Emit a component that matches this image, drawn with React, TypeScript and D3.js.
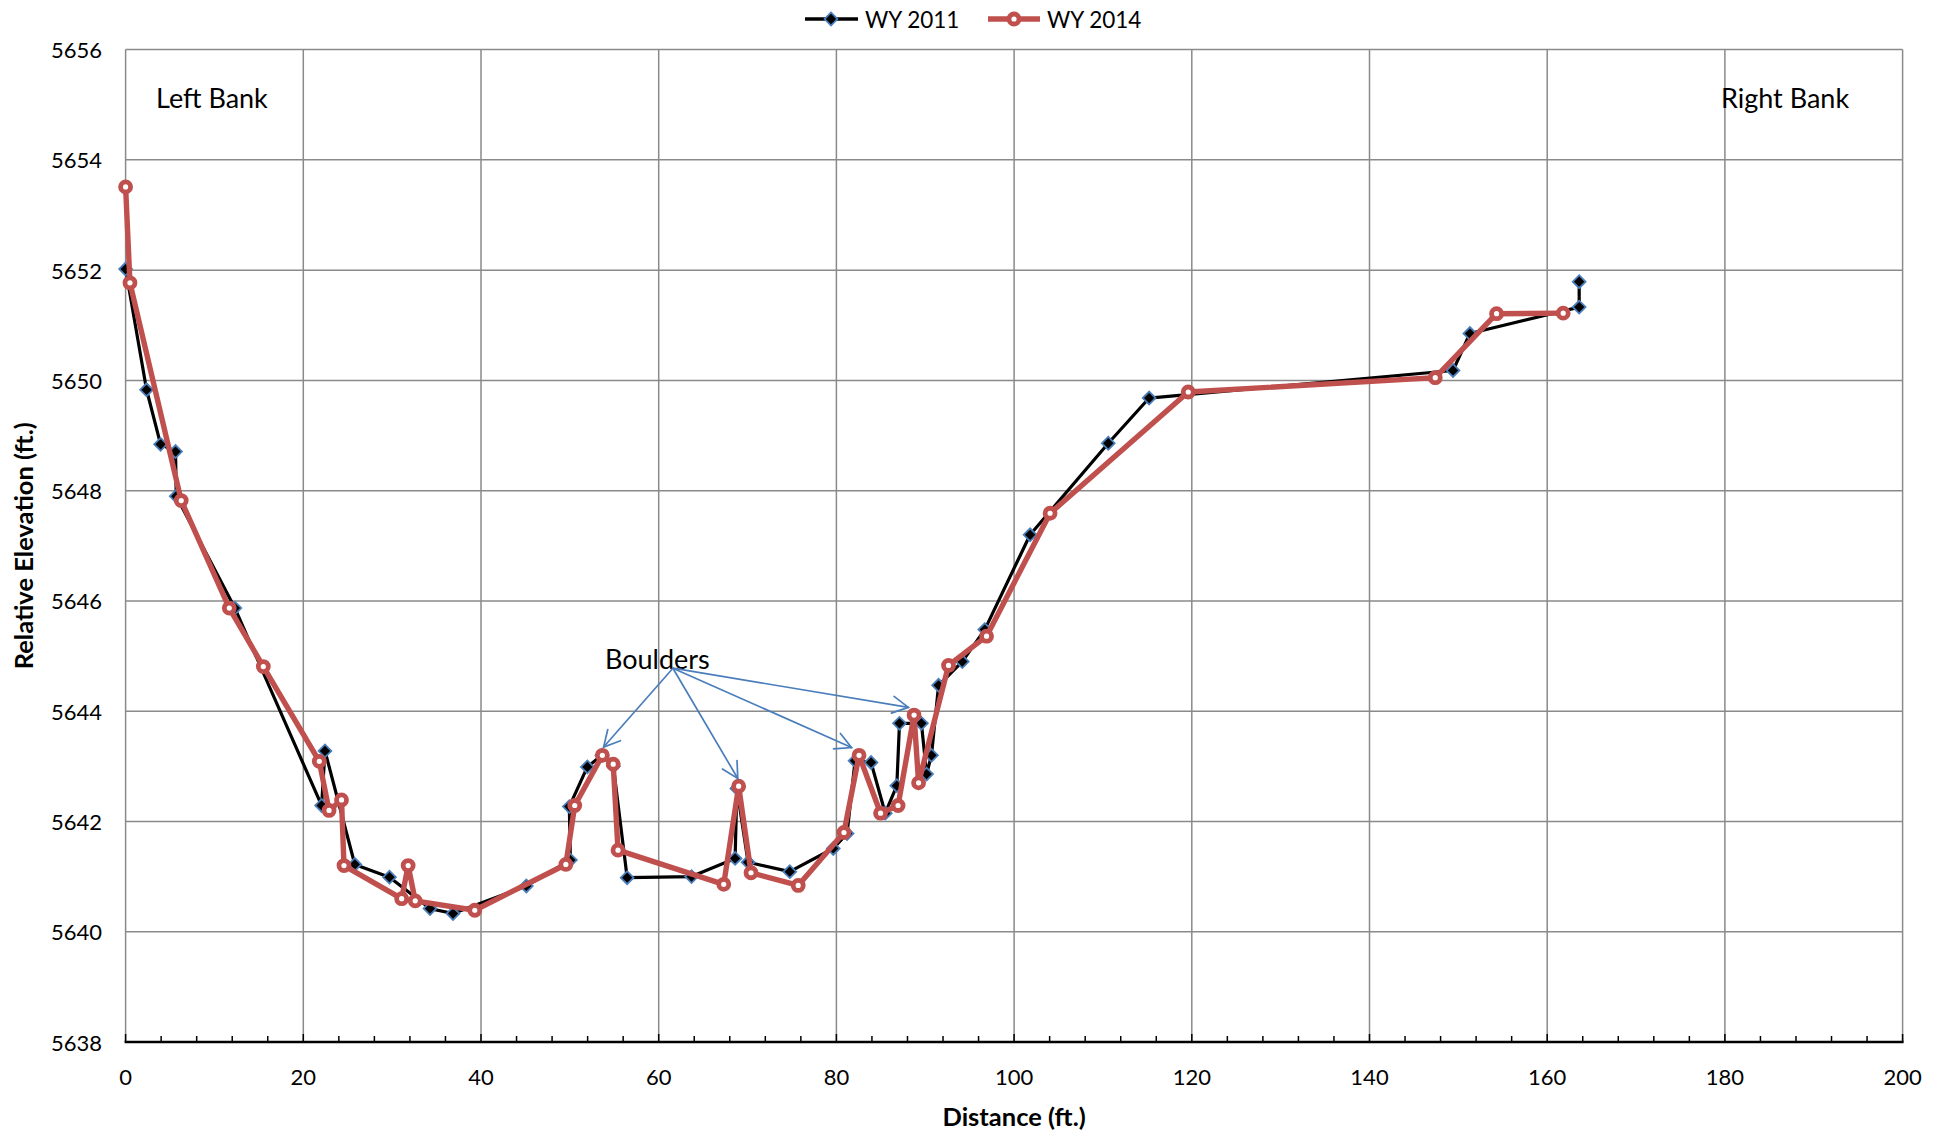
import React from "react";
import * as d3 from "d3";

const W = 1948;
const H = 1132;

// Cross-section survey, WY 2011
const distance2011 = [0, 2.36, 3.94, 5.62, 5.7, 12.3, 22.06, 22.44, 25.8, 29.7, 34.26, 36.85, 45.1, 50.06, 49.94, 51.97, 53.6, 54.9, 56.45, 63.7, 68.6, 68.8, 70.06, 74.75, 79.65, 81.2, 82.1, 83.9, 85.5, 86.8, 87.1, 89.57, 90.15, 90.7, 91.5, 94.17, 96.7, 101.8, 110.6, 115.2, 149.4, 151.3, 163.6, 163.6];
const elevation2011 = [5652.02, 5649.83, 5648.84, 5648.71, 5647.9, 5645.87, 5642.29, 5643.28, 5641.22, 5640.99, 5640.42, 5640.33, 5640.83, 5641.3, 5642.27, 5642.99, 5643.2, 5643.0, 5640.98, 5641.0, 5641.33, 5642.6, 5641.26, 5641.09, 5641.51, 5641.78, 5643.1, 5643.07, 5642.15, 5642.65, 5643.78, 5643.78, 5642.86, 5643.2, 5644.47, 5644.9, 5645.48, 5647.2, 5648.86, 5649.68, 5650.18, 5650.85, 5651.33, 5651.79];

// Cross-section survey, WY 2014
const distance2014 = [0, 0.49, 6.26, 11.67, 15.5, 21.8, 22.9, 24.3, 24.58, 31.07, 31.8, 32.6, 39.3, 49.55, 50.55, 53.66, 54.88, 55.42, 67.32, 69.0, 70.39, 75.7, 80.85, 82.55, 84.97, 86.94, 88.74, 89.25, 92.62, 96.9, 104.05, 119.6, 147.4, 154.3, 161.8];
const elevation2014 = [5653.51, 5651.77, 5647.82, 5645.87, 5644.81, 5643.09, 5642.2, 5642.39, 5641.2, 5640.6, 5641.2, 5640.56, 5640.39, 5641.22, 5642.29, 5643.2, 5643.04, 5641.48, 5640.86, 5642.64, 5641.07, 5640.84, 5641.8, 5643.2, 5642.15, 5642.29, 5643.93, 5642.7, 5644.83, 5645.36, 5647.59, 5649.79, 5650.05, 5651.21, 5651.22];

const xTicks = [0, 20, 40, 60, 80, 100, 120, 140, 160, 180, 200];
const yTicks = [5638, 5640, 5642, 5644, 5646, 5648, 5650, 5652, 5654, 5656];

// "Boulders" callout: arrows fan out from one point to each boulder
const boulderOrigin = [61.6, 5644.78];
const boulderTipX = [53.8, 68.9, 81.7, 88.1];
const boulderTipY = [5643.35, 5642.78, 5643.34, 5644.07];

const FONT = "Lato, 'Open Sans', sans-serif";
const GRID = "#8a8a8a";
const RED = "#C0504D";
const BLUE = "#4A7EBB";

const x = d3.scaleLinear().domain([0, 200]).range([125.6, 1902.6]);
const y = d3.scaleLinear().domain([5638, 5656]).range([1042, 49.6]);

type Pt = [number, number];
const pts2011: Pt[] = distance2011.map((d, i) => [d, elevation2011[i]]);
const pts2014: Pt[] = distance2014.map((d, i) => [d, elevation2014[i]]);

const line = d3
  .line<Pt>()
  .x((d) => x(d[0]))
  .y((d) => y(d[1]));

const diamond = d3.symbol(d3.symbolSquare, 82)();
const minorTicks = d3.range(0, 201, 4).filter((v) => v % 20 !== 0);

function Arrow({ x0, y0, x1, y1 }: { x0: number; y0: number; x1: number; y1: number }) {
  const ang = Math.atan2(y1 - y0, x1 - x0);
  const L = 18;
  const spread = (28 * Math.PI) / 180;
  const w1: Pt = [x1 - L * Math.cos(ang - spread), y1 - L * Math.sin(ang - spread)];
  const w2: Pt = [x1 - L * Math.cos(ang + spread), y1 - L * Math.sin(ang + spread)];
  return (
    <g stroke={BLUE} strokeWidth={1.7} fill="none" strokeLinecap="round">
      <line x1={x0} y1={y0} x2={x1} y2={y1} />
      <polyline points={`${w1[0]},${w1[1]} ${x1},${y1} ${w2[0]},${w2[1]}`} />
    </g>
  );
}

export default function App() {
  const [ox, oy] = boulderOrigin;
  return (
    <svg
      width={W}
      height={H}
      viewBox={`0 0 ${W} ${H}`}
      style={{ position: "absolute", left: 0, top: 0, background: "#fff" }}
      fontFamily={FONT}
    >
      <rect x={0} y={0} width={W} height={H} fill="#fff" />

      {/* grid */}
      <g stroke={GRID} strokeWidth={1.5}>
        {xTicks.map((t) => (
          <line key={`gx${t}`} x1={x(t)} x2={x(t)} y1={y(5656)} y2={y(5638)} />
        ))}
        {yTicks.map((t) => (
          <line key={`gy${t}`} x1={x(0)} x2={x(200)} y1={y(t)} y2={y(t)} />
        ))}
      </g>

      {/* x axis with inward ticks */}
      <g stroke="#000">
        {xTicks.map((t) => (
          <line key={`mt${t}`} x1={x(t)} x2={x(t)} y1={y(5638)} y2={y(5638) - 8} strokeWidth={1.5} />
        ))}
        {minorTicks.map((t) => (
          <line key={`nt${t}`} x1={x(t)} x2={x(t)} y1={y(5638)} y2={y(5638) - 6} strokeWidth={1.5} />
        ))}
        <line x1={x(0) - 1} x2={x(200) + 1} y1={y(5638)} y2={y(5638)} strokeWidth={2.6} />
      </g>

      {/* tick labels */}
      <g fontSize={22} fill="#000">
        {yTicks.map((t) => (
          <text key={`ly${t}`} x={102} y={y(t)} textAnchor="end" dominantBaseline="central">
            {t}
          </text>
        ))}
        {xTicks.map((t) => (
          <text key={`lx${t}`} x={x(t)} y={1076} textAnchor="middle" dominantBaseline="central">
            {t}
          </text>
        ))}
      </g>

      {/* axis titles */}
      <text x={x(100)} y={1116} textAnchor="middle" dominantBaseline="central" fontSize={25.5} fontWeight="bold">
        Distance (ft.)
      </text>
      <text
        transform={`translate(23, ${(y(5638) + y(5656)) / 2}) rotate(-90)`}
        textAnchor="middle"
        dominantBaseline="central"
        fontSize={25.5}
        fontWeight="bold"
      >
        Relative Elevation (ft.)
      </text>

      {/* bank labels */}
      <text x={156} y={97} dominantBaseline="central" fontSize={27}>
        Left Bank
      </text>
      <text x={1721} y={97} dominantBaseline="central" fontSize={27}>
        Right Bank
      </text>

      {/* WY 2011 */}
      <path d={line(pts2011) ?? ""} fill="none" stroke="#000" strokeWidth={3.2} strokeLinejoin="round" />
      {pts2011.map((p, i) => (
        <path
          key={`d${i}`}
          d={diamond ?? ""}
          transform={`translate(${x(p[0])},${y(p[1])}) rotate(45)`}
          fill="#000"
          stroke={BLUE}
          strokeWidth={1.8}
        />
      ))}

      {/* WY 2014 */}
      <path d={line(pts2014) ?? ""} fill="none" stroke={RED} strokeWidth={5.4} strokeLinejoin="round" />
      {pts2014.map((p, i) => (
        <circle key={`c${i}`} cx={x(p[0])} cy={y(p[1])} r={5} fill="#fff" stroke={RED} strokeWidth={4.8} />
      ))}

      {/* Boulders callout */}
      <text x={605} y={658} dominantBaseline="central" fontSize={27}>
        Boulders
      </text>
      {boulderTipX.map((tx, i) => (
        <Arrow key={`a${i}`} x0={x(ox)} y0={y(oy)} x1={x(tx)} y1={y(boulderTipY[i])} />
      ))}

      {/* legend */}
      <g>
        <line x1={805} x2={858} y1={19} y2={19} stroke="#000" strokeWidth={3.4} />
        <path d={diamond ?? ""} transform="translate(831,19) rotate(45)" fill="#000" stroke={BLUE} strokeWidth={1.8} />
        <text x={865} y={19} dominantBaseline="central" fontSize={22.5}>
          WY 2011
        </text>
        <line x1={988} x2={1040} y1={19} y2={19} stroke={RED} strokeWidth={5.4} />
        <circle cx={1014} cy={19} r={5} fill="#fff" stroke={RED} strokeWidth={4.8} />
        <text x={1047} y={19} dominantBaseline="central" fontSize={22.5}>
          WY 2014
        </text>
      </g>
    </svg>
  );
}
